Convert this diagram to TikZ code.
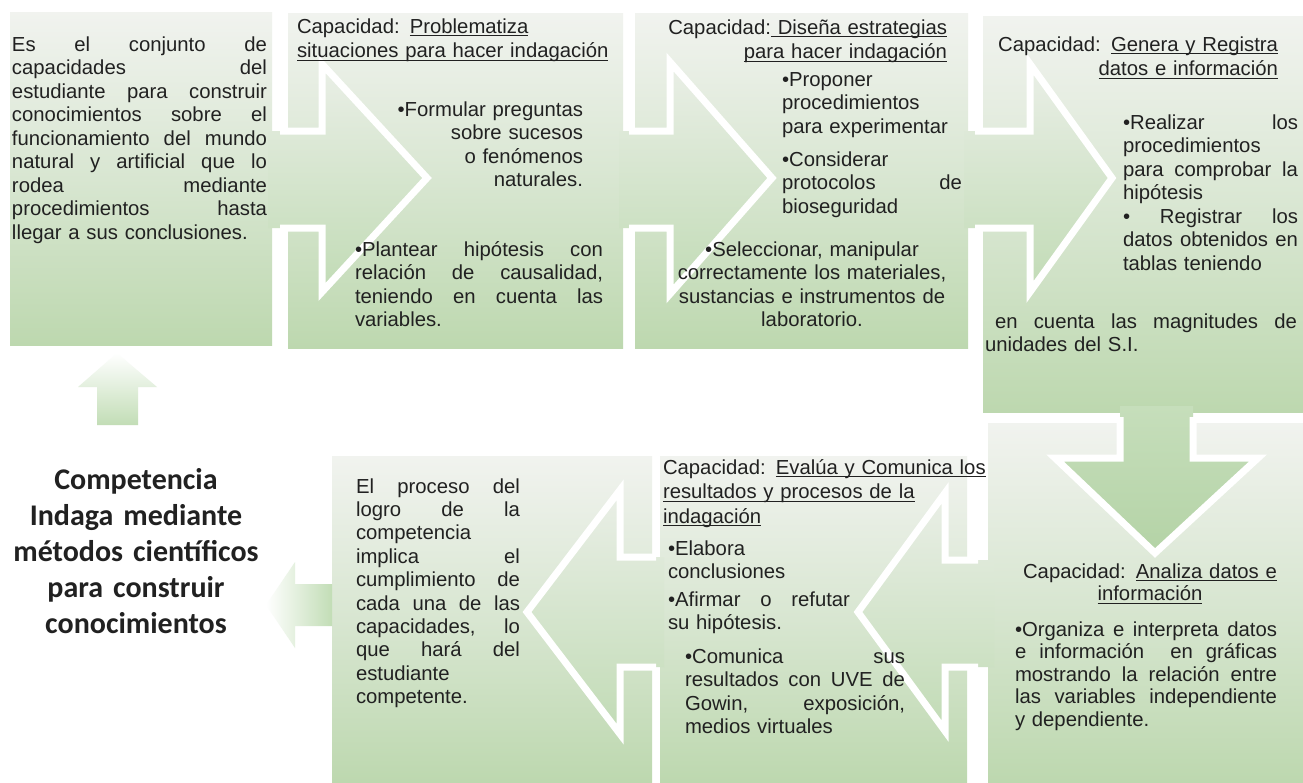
\documentclass[tikz,border=0pt]{standalone}
\usepackage{fontspec}
\setmainfont{Liberation Sans}
\newfontfamily\calibrifont{Carlito}
\definecolor{gtop}{RGB}{241,243,239}
\definecolor{gmid}{RGB}{216,230,209}
\definecolor{gbot}{RGB}{189,216,175}
\definecolor{atop}{RGB}{234,239,231}
\definecolor{abot}{RGB}{193,219,181}
\definecolor{dtop}{RGB}{198,222,187}
\definecolor{dbot}{RGB}{180,211,166}
\definecolor{fadeg}{RGB}{194,221,182}
\definecolor{ink}{RGB}{33,33,33}
% underline sitting just under the baseline
\newcommand\ulx[1]{\leavevmode\setbox0=\hbox{#1}\rlap{\rule[-3.4pt]{\wd0}{1.1pt}}\box0}
% a justified line of given width: spaces stretched to the full width
\newcommand\jw[2]{\makebox[#1][s]{\spaceskip=0pt\xspaceskip=0pt #2}}
\newcommand\jl[1]{\jw{\linewidth}{#1}}
\begin{document}
\begin{tikzpicture}[x=1pt,y=-1pt,
  blk/.style={inner sep=0pt, outer sep=0pt, anchor=north west,
    top color=gtop, bottom color=gbot, middle color=gmid},
  arrowfill/.style={top color=atop, bottom color=abot},
  rim/.style={draw=white, line width=7pt, line join=miter},
  txt/.style={inner sep=0pt, outer sep=0pt, anchor=base west, text=ink,
    font=\fontsize{20.3}{23.5}\selectfont},
  head/.style={txt, font=\fontsize{20.3}{24.5}\selectfont},
  title/.style={inner sep=0pt, anchor=base, align=center, text width=290pt,
    text=ink, font=\calibrifont\bfseries\fontsize{30}{36}\selectfont}]
\useasboundingbox (0,0) rectangle (1303,782);
\fill[white] (0,0) rectangle (1303,782);

% blocks of the process
\node[blk, minimum width=262pt, minimum height=333pt] (b1) at (10,12) {};
\node[blk, minimum width=335pt, minimum height=335pt] (b2) at (288,13) {};
\node[blk, minimum width=333pt, minimum height=335pt] (b3) at (635,13) {};
\node[blk, minimum width=320pt, minimum height=396pt] (b4) at (983,16) {};
\node[blk, minimum width=315pt, minimum height=359pt] (b5) at (988,423) {};
\node[blk, minimum width=307pt, minimum height=326pt] (b6) at (660,456) {};
\node[blk, minimum width=320pt, minimum height=326pt] (b7) at (332,456) {};

% block arrows, top row (pointing right)
\shade[arrowfill] (268,131) -- (322,131) -- (322,64) -- (427,178) -- (322,292) -- (322,228) -- (268,228) -- cycle;
\draw[rim] (280,131) -- (322,131) -- (322,64) -- (427,178) -- (322,292) -- (322,228) -- (280,228);
\shade[arrowfill] (619,131) -- (670,131) -- (670,62) -- (772,178) -- (670,294) -- (670,228) -- (619,228) -- cycle;
\draw[rim] (629,131) -- (670,131) -- (670,62) -- (772,178) -- (670,294) -- (670,228) -- (629,228);
\shade[arrowfill] (964,131) -- (1030,131) -- (1030,64) -- (1112,178) -- (1030,292) -- (1030,228) -- (964,228) -- cycle;
\draw[rim] (975,131) -- (1030,131) -- (1030,64) -- (1112,178) -- (1030,292) -- (1030,228) -- (975,228);

% block arrow pointing down
\shade[top color=dtop, bottom color=dbot] (1120,406) -- (1120,458) -- (1055,458) -- (1155,553) -- (1258,458) -- (1193,458) -- (1193,406) -- cycle;
\draw[rim] (1120,417) -- (1120,458) -- (1055,458) -- (1155,553) -- (1258,458) -- (1193,458) -- (1193,417);

% block arrows, bottom row (pointing left)
\shade[arrowfill] (994,560) -- (945,560) -- (945,493) -- (858,612) -- (945,731) -- (945,667) -- (994,667) -- cycle;
\draw[rim] (978,560) -- (945,560) -- (945,493) -- (858,612) -- (945,731) -- (945,667) -- (978,667);
\shade[arrowfill] (664,557) -- (620,557) -- (620,490) -- (527,612) -- (620,734) -- (620,667) -- (664,667) -- cycle;
\draw[rim] (656,557) -- (620,557) -- (620,490) -- (527,612) -- (620,734) -- (620,667) -- (656,667);

% faded arrows around the title
\shade[left color=white, right color=fadeg] (332,584) -- (295,584) -- (295,562) -- (266,605) -- (295,648) -- (295,626) -- (332,626) -- cycle;
\shade[top color=white, bottom color=fadeg] (97,425) -- (97,387) -- (78,387) -- (117,353) -- (157,387) -- (138,387) -- (138,425) -- cycle;

% texts
\node[txt, text width=255pt, align=left] (t1) at (12,51) {%
  \jl{Es el conjunto de}\\
  \jl{capacidades del}\\
  \jl{estudiante para construir}\\
  \jl{conocimientos sobre el}\\
  \jl{funcionamiento del mundo}\\
  \jl{natural y artificial que lo}\\
  \jl{rodea mediante}\\
  \jl{procedimientos hasta}\\
  llegar a sus conclusiones.};

\node[head, text width=320pt, align=left] (h2) at (297,33) {%
  Capacidad: \ulx{Problematiza}\\
  \ulx{situaciones para hacer indagación}};
\node[txt, anchor=base east, text width=220pt, align=right] (p2a) at (583,116) {%
  •Formular preguntas\\
  sobre sucesos\\
  o fenómenos\\
  naturales.};
\node[txt, text width=248pt, align=left] (p2b) at (355,256) {%
  \jl{•Plantear hipótesis con}\\
  \jl{relación de causalidad,}\\
  \jl{teniendo en cuenta las}\\
  variables.};

\node[head, anchor=base east, text width=300pt, align=right] (h3) at (947,34) {%
  Capacidad:\ulx{ Diseña estrategias}\\
  \ulx{para hacer indagación}};
\node[txt, text width=180pt, align=left] (p3a) at (782,86) {%
  •Proponer\\
  procedimientos\\
  para experimentar};
\node[txt, text width=180pt, align=left] (p3b) at (782,166) {%
  •Considerar\\
  \jl{protocolos de}\\
  bioseguridad};
\node[txt, anchor=base, text width=300pt, align=center] (p3c) at (812,256) {%
  •Seleccionar, manipular\\
  correctamente los materiales,\\
  sustancias e instrumentos de\\
  laboratorio.};

\node[head, anchor=base east, text width=300pt, align=right] (h4) at (1278,51) {%
  Capacidad: \ulx{Genera y Registra}\\
  \ulx{datos e información}};
\node[txt, text width=175pt, align=left] (p4a) at (1123,129) {%
  \jl{•Realizar los}\\
  procedimientos\\
  \jl{para comprobar la}\\
  hipótesis\\
  \jl{• Registrar los}\\
  \jl{datos obtenidos en}\\
  tablas teniendo};
\node[txt, text width=312pt, align=left] (p4b) at (985,328) {%
  \hspace*{10pt}\jw{302pt}{en cuenta las magnitudes de}\\
  unidades del S.I.};

\node[head, anchor=base, text width=300pt, align=center, font=\fontsize{20.3}{22.5}\selectfont] (h5) at (1150,578) {%
  Capacidad: \ulx{Analiza datos e}\\
  \ulx{información}};
\node[txt, text width=262pt, align=left, font=\fontsize{20.3}{22.6}\selectfont] (p5) at (1015,636) {%
  \jl{•Organiza e interpreta datos}\\
  \jl{e información \ en gráficas}\\
  \jl{mostrando la relación entre}\\
  \jl{las variables independiente}\\
  y dependiente.};

\node[head, text width=330pt, align=left] (h6) at (663,474) {%
  Capacidad: \ulx{Evalúa y Comunica los}\\
  \ulx{resultados y procesos de la}\\
  \ulx{indagación}};
\node[txt, text width=200pt, align=left] (p6a) at (668,555) {%
  •Elabora\\
  conclusiones};
\node[txt, text width=200pt, align=left] (p6b) at (668,606) {%
  \jw{182pt}{•Afirmar o refutar}\\
  su hipótesis.};
\node[txt, text width=220pt, align=left] (p6c) at (685,663) {%
  \jl{•Comunica sus}\\
  \jl{resultados con UVE de}\\
  \jl{Gowin, exposición,}\\
  medios virtuales};

\node[txt, text width=164pt, align=left, font=\fontsize{20.3}{23.4}\selectfont] (p7) at (356,493) {%
  \jl{El proceso del}\\
  \jl{logro de la}\\
  competencia\\
  \jl{implica el}\\
  \jl{cumplimiento de}\\
  \jl{cada una de las}\\
  \jl{capacidades, lo}\\
  \jl{que hará del}\\
  estudiante\\
  competente.};

\node[title] (comp) at (136,489) {%
  Competencia\\
  Indaga mediante\\
  métodos científicos\\
  para construir\\
  conocimientos};
\end{tikzpicture}
\end{document}
